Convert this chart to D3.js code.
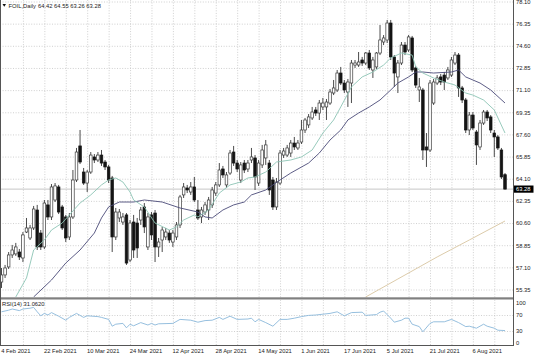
<!DOCTYPE html>
<html><head><meta charset="utf-8">
<script src="https://cdn.jsdelivr.net/npm/d3@7"></script>
<style>
body{margin:0;background:#fff}
svg{display:block}
text{font-family:"Liberation Sans",Arial,sans-serif;font-size:5.8px;fill:#222}
</style>
</head><body>
<svg id="c" width="536" height="357"></svg>
<script>
const tickLabels = ["4 Feb 2021","22 Feb 2021","10 Mar 2021","24 Mar 2021","12 Apr 2021","28 Apr 2021","14 May 2021","1 Jun 2021","17 Jun 2021","5 Jul 2021","21 Jul 2021","6 Aug 2021"];
const priceTicks = [78.10,76.35,74.60,72.85,71.10,69.35,67.60,65.85,64.10,62.35,60.60,58.85,57.10,55.35];
const rsiTicks = [100,70,30,0];
const lastPrice = 63.28;
const rsiLast = "31.0620";

const open = [55.94,56.50,57.13,58.08,58.16,58.31,57.84,59.89,59.42,60.21,
61.63,59.81,58.71,62.03,61.08,62.42,63.45,61.87,61.08,59.50,
61.08,64.00,66.69,64.63,63.76,64.63,65.82,65.58,65.97,65.42,
65.03,64.16,59.50,61.00,60.68,61.24,57.68,60.68,60.60,60.84,
61.87,58.71,61.24,61.39,58.71,59.26,59.50,59.81,59.10,59.50,
60.45,62.82,63.37,63.05,63.45,61.63,61.08,61.47,61.63,62.03,
62.97,63.61,64.87,63.61,64.55,66.21,65.34,64.00,65.34,64.87,
65.58,65.74,63.76,65.19,65.74,65.34,64.00,61.87,63.76,65.97,
65.97,66.13,66.92,66.53,67.00,67.95,68.35,68.90,69.53,69.29,
69.77,69.77,70.08,70.87,71.11,72.45,71.66,70.95,71.66,73.08,
73.08,73.48,73.24,74.03,72.69,72.93,74.03,74.90,75.06,76.40,
73.72,72.14,73.24,74.66,74.27,75.22,72.85,71.11,71.11,66.61,
66.37,70.08,71.66,72.14,72.29,72.06,72.29,73.24,73.87,71.27,
70.32,67.95,69.13,67.79,66.61,68.50,69.37,68.98,67.71,67.40,
66.37,64.42];
const high = [57.05,57.29,58.31,58.87,59.03,58.55,59.89,61.00,60.45,61.95,
62.03,60.05,62.42,62.42,63.68,63.76,63.61,62.03,61.24,61.39,
64.79,66.53,67.95,64.95,64.79,66.21,66.05,66.21,66.37,65.58,
65.19,64.32,61.79,61.71,61.39,61.39,60.84,61.24,61.00,61.87,
62.18,61.39,61.47,61.63,59.42,60.29,60.21,60.05,60.05,60.68,
62.82,63.76,63.61,63.84,64.24,62.42,61.87,62.26,62.66,63.45,
63.84,65.34,65.11,64.63,66.37,66.69,65.58,65.42,65.58,65.58,
66.53,65.97,65.58,66.77,67.16,65.58,64.24,64.16,66.37,66.53,
66.77,67.16,67.40,67.16,68.74,68.90,69.21,69.77,69.77,70.32,
70.48,70.40,71.19,71.90,72.69,72.93,71.90,71.98,73.48,73.48,
74.11,73.72,74.11,74.27,73.72,74.11,76.24,75.45,76.64,76.64,
73.87,73.48,74.90,74.90,75.45,75.38,73.01,72.06,71.27,67.71,
71.90,71.98,72.29,72.37,72.53,72.93,73.72,74.11,74.03,71.43,
70.48,69.37,69.37,67.95,68.74,69.53,69.53,69.13,67.95,67.55,
66.53,64.55];
const low = [55.47,56.26,56.97,57.84,58.00,57.68,57.52,59.81,59.26,60.05,
58.47,58.47,58.55,60.84,60.84,62.26,61.31,60.05,59.10,59.26,
60.92,63.84,65.26,63.61,63.05,64.48,65.34,65.42,65.11,64.79,
63.76,58.31,59.26,60.68,60.45,57.29,57.52,57.84,57.84,60.45,
59.81,58.47,59.26,57.52,57.92,58.31,59.26,59.03,58.71,59.26,
60.21,62.58,62.97,62.82,62.26,60.84,60.60,61.24,60.84,61.79,
62.74,63.45,64.16,63.37,64.40,65.11,64.63,63.76,64.55,64.63,
65.34,63.21,63.53,64.95,65.19,62.82,61.63,61.63,63.61,65.74,
65.82,65.82,66.37,66.37,66.84,67.71,68.11,68.74,69.06,68.74,
69.53,68.74,69.93,70.71,70.95,71.50,70.87,69.77,70.08,72.85,
72.93,73.01,73.08,72.69,72.06,72.77,73.87,74.66,74.82,73.48,
71.35,70.87,73.08,73.87,74.11,72.53,71.27,70.16,65.58,65.03,
66.21,69.93,71.50,71.50,71.11,71.90,72.14,73.08,70.56,70.08,
67.71,67.55,67.95,65.19,66.37,68.35,68.66,67.71,65.82,66.37,
64.08,63.26];
const close = [56.50,57.05,58.08,58.47,58.71,57.92,59.66,60.21,60.21,61.71,
58.71,58.71,62.18,61.08,63.45,63.53,61.47,60.21,59.42,61.08,
64.00,66.21,65.42,63.76,64.63,65.97,65.58,65.97,65.34,65.03,
64.00,59.50,61.47,61.47,61.08,57.44,60.60,58.47,58.63,61.63,
60.29,61.08,59.66,58.71,59.10,60.05,59.89,59.26,59.81,60.45,
62.66,63.45,63.21,63.45,62.42,61.00,61.63,62.03,62.42,63.21,
63.61,64.79,64.40,64.40,66.13,65.34,64.87,65.19,64.79,65.34,
65.82,64.24,65.34,66.37,66.77,63.21,61.87,63.84,66.13,66.29,
66.53,66.92,66.61,66.92,67.95,68.74,68.98,69.37,69.29,70.08,
70.08,70.16,70.95,71.27,72.45,71.66,71.11,71.74,73.24,73.24,
73.32,73.24,74.03,72.85,73.48,74.03,75.06,75.22,76.40,73.72,
72.45,73.24,74.66,74.11,75.30,72.69,71.50,71.35,66.37,66.37,
71.66,71.74,72.06,71.74,71.74,72.69,73.48,73.87,71.27,70.32,
67.95,69.13,68.11,66.77,68.50,69.37,68.90,67.95,67.40,66.53,
64.24,63.28];

// moving averages read at sample bars: [bar, value]
const maFast = [[4,54.76],[7,56.26],[9,58.47],[12,59.26],[14,60.05],[17,60.60],[19,61.24],[22,62.18],[25,62.82],[28,63.61],[30,64.00],[32,64.16],[34,63.84],[36,63.05],[37,62.42],[40,61.87],[43,60.60],[47,60.05],[49,60.29],[51,60.84],[54,61.24],[55,61.08],[58,61.63],[61,62.97],[64,63.61],[67,63.84],[69,64.16],[71,64.24],[74,64.63],[77,65.42],[81,65.58],[84,65.82],[87,66.37],[90,67.71],[93,68.74],[95,69.77],[98,71.35],[101,72.14],[104,72.53],[107,73.08],[109,73.64],[112,74.03],[115,73.87],[116,72.93],[118,72.45],[121,72.06],[124,71.74],[127,71.50],[130,70.87],[132,70.71],[135,70.32],[138,69.53],[141,67.71]];
const maSlow = [[9,54.76],[14,56.10],[18,57.44],[22,58.47],[26,59.81],[28,61.00],[30,61.87],[33,62.26],[37,62.26],[40,62.42],[45,62.26],[50,61.79],[55,61.47],[57,61.08],[59,61.00],[62,61.63],[65,62.03],[68,62.26],[70,62.82],[74,63.21],[78,64.00],[81,64.55],[86,65.34],[89,66.13],[92,67.16],[95,67.95],[97,68.74],[100,69.29],[103,69.77],[106,70.32],[109,71.11],[111,71.66],[114,72.14],[116,72.53],[118,72.53],[121,72.45],[126,72.53],[128,72.69],[130,72.14],[134,71.66],[137,71.11],[141,70.08]];
const maLong = [[102,54.76],[111,56.18],[122,57.92],[131,59.26],[141,60.76]];
const rsi = [[0,78],[2,82],[3,85],[5,81],[6,85],[8,87],[9,89],[10,78],[11,68],[12,74],[13,70],[14,76],[16,67],[18,57],[19,64],[21,74],[23,64],[24,68],[27,66],[28,64],[30,59],[31,42],[32,47],[34,49],[35,38],[36,47],[37,43],[39,51],[41,45],[42,49],[43,45],[44,48],[48,49],[50,59],[53,57],[55,52],[57,56],[59,57],[61,64],[62,59],[64,67],[66,59],[69,60],[70,62],[71,53],[72,59],[74,51],[76,42],[78,59],[80,59],[82,62],[84,66],[86,69],[88,70],[90,72],[92,74],[94,78],[96,68],[98,76],[101,77],[102,69],[105,71],[106,77],[107,80],[109,62],[110,52],[112,57],[113,62],[114,62],[115,47],[117,41],[118,28],[120,49],[121,53],[124,53],[126,59],[128,51],[130,41],[131,42],[133,37],[135,47],[136,42],[138,37],[139,32],[141,31.06]];

const svg = d3.select("#c");
const PR = 513;          // right edge of plot
const mainBottom = 297.3;
const x = d3.scaleLinear().domain([0, open.length - 1]).range([1.5, 505]);
const y = d3.scaleLinear().domain([55.35, 78.10]).range([289.5, 1.5]);
const yr = d3.scaleLinear().domain([0, 100]).range([343, 303]);

const defs = svg.append("defs");
defs.append("clipPath").attr("id","cm").append("rect").attr("x",0).attr("y",0).attr("width",PR).attr("height",mainBottom);
defs.append("clipPath").attr("id","cr").append("rect").attr("x",0).attr("y",299.5).attr("width",PR).attr("height",45.5);

const gridBars = d3.range(6, open.length, 6);
const gridStyle = g => { g.select(".domain").remove(); g.selectAll("line").attr("stroke","#c4c4c4").attr("stroke-width",0.8).attr("stroke-dasharray","1,1.6"); g.selectAll("text").remove(); };

// main grid
svg.append("g").attr("transform",`translate(0,${mainBottom})`)
  .call(d3.axisBottom(x).tickValues(gridBars).tickSize(-mainBottom).tickFormat("")).call(gridStyle);
svg.append("g").call(d3.axisRight(y).tickValues(priceTicks).tickSize(PR).tickFormat("")).call(gridStyle);
// rsi grid
svg.append("g").attr("transform","translate(0,345)")
  .call(d3.axisBottom(x).tickValues(gridBars).tickSize(-45).tickFormat("")).call(gridStyle);
svg.append("g").call(d3.axisRight(yr).tickValues([70,30]).tickSize(PR).tickFormat("")).call(gridStyle);

// bid line
svg.append("line").attr("x1",0).attr("x2",PR).attr("y1",y(lastPrice)).attr("y2",y(lastPrice)).attr("stroke","#b8b8b8").attr("stroke-width",0.8);

// candles
const main = svg.append("g").attr("clip-path","url(#cm)");
const idx = d3.range(open.length);
const bw = 2.6;
main.selectAll("line.w").data(idx).join("line").attr("class","w")
  .attr("x1",i=>x(i)).attr("x2",i=>x(i)).attr("y1",i=>y(high[i])).attr("y2",i=>y(low[i]))
  .attr("stroke","#2a2a2a").attr("stroke-width",0.85);
main.selectAll("rect.b").data(idx).join("rect").attr("class","b")
  .attr("x",i=>x(i)-bw/2).attr("width",bw)
  .attr("y",i=>y(Math.max(open[i],close[i])))
  .attr("height",i=>Math.max(0.8, Math.abs(y(open[i])-y(close[i]))))
  .attr("fill",i=>close[i]>=open[i]?"#ffffff":"#141414")
  .attr("stroke",i=>close[i]>=open[i]?"#3a3a3a":"#141414")
  .attr("stroke-width",0.7);

// moving averages
const ln = d3.line().x(d=>x(d[0])).y(d=>y(d[1]));
main.append("path").datum(maLong).attr("d",ln).attr("fill","none").attr("stroke","#dccbaa").attr("stroke-width",1);
main.append("path").datum(maSlow).attr("d",ln).attr("fill","none").attr("stroke","#4b4b78").attr("stroke-width",0.9);
main.append("path").datum(maFast).attr("d",ln).attr("fill","none").attr("stroke","#8cc4b4").attr("stroke-width",0.9);

// rsi
const rl = d3.line().x(d=>x(d[0])).y(d=>yr(d[1]));
svg.append("g").attr("clip-path","url(#cr)").append("path").datum(rsi).attr("d",rl)
  .attr("fill","none").attr("stroke","#8ab8da").attr("stroke-width",0.9);

// separator and frame
svg.append("rect").attr("x",0).attr("y",mainBottom).attr("width",PR).attr("height",2.2).attr("fill","#808080");
svg.append("line").attr("x1",0.5).attr("x2",0.5).attr("y1",0).attr("y2",345.5).attr("stroke","#555").attr("stroke-width",1);
svg.append("line").attr("x1",PR+0.5).attr("x2",PR+0.5).attr("y1",0).attr("y2",345.5).attr("stroke","#555").attr("stroke-width",1);
svg.append("line").attr("x1",0).attr("x2",PR+1).attr("y1",345.5).attr("y2",345.5).attr("stroke","#555").attr("stroke-width",1);

// axes labels
const axStyle = g => { g.select(".domain").remove(); g.selectAll("line").remove(); g.selectAll("text").attr("font-size",null).attr("font-family",null).attr("fill","#222"); };
svg.append("g").attr("transform",`translate(${PR},0)`)
  .call(d3.axisRight(y).tickValues(priceTicks).tickFormat(d3.format(".2f")).tickSize(0).tickPadding(3)).call(axStyle);
svg.append("g").attr("transform",`translate(${PR},0)`)
  .call(d3.axisRight(yr).tickValues(rsiTicks).tickFormat(d3.format("d")).tickSize(0).tickPadding(3)).call(axStyle);
svg.append("g").attr("transform","translate(0,345)")
  .call(d3.axisBottom(x).tickValues(tickLabels.map((d,i)=>i*12)).tickFormat((d,i)=>tickLabels[i]).tickSize(0).tickPadding(4))
  .call(axStyle).selectAll("text").attr("text-anchor","start").attr("dx",-0.8);

// last price box
svg.append("rect").attr("x",PR+1).attr("y",y(lastPrice)-3.6).attr("width",19.5).attr("height",7.2).attr("fill","#000");
svg.append("text").attr("x",PR+3).attr("y",y(lastPrice)).attr("dy","0.34em").style("fill","#fff").text(d3.format(".2f")(lastPrice));

// titles
svg.append("path").attr("d","M2.5,4 L6,4 L4.25,6.8 Z").attr("fill","#111");
svg.append("text").attr("x",8.5).attr("y",8).text("FOIL,Daily");
svg.append("text").attr("x",38).attr("y",8).text([open, high, low, close].map(a=>a[a.length-1].toFixed(2)).join(" "));
svg.append("text").attr("x",2).attr("y",306.3).text("RSI(14) " + rsiLast);
</script>
</body></html>
